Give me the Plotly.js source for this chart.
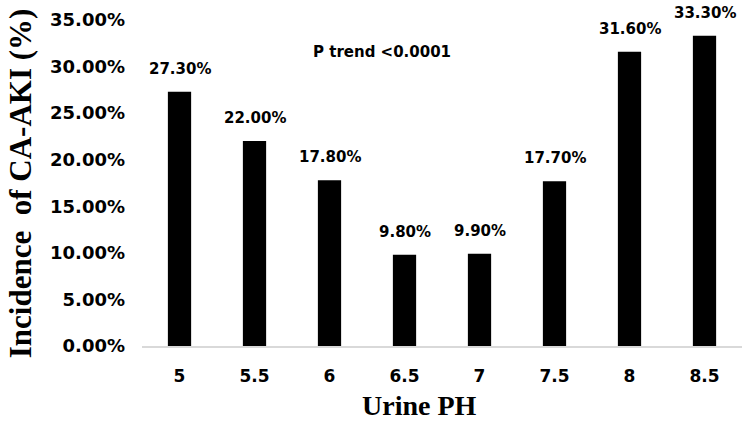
<!DOCTYPE html>
<html><head><meta charset="utf-8">
<script src="https://cdn.plot.ly/plotly-3.0.1.min.js"></script>
<style>html,body{margin:0;padding:0;background:#fff;}</style>
</head><body>
<div id="chart" style="width:749px;height:429px;"></div>
<script>
const categories = ["5", "5.5", "6", "6.5", "7", "7.5", "8", "8.5"];
const incidence = [27.3, 22.0, 17.8, 9.8, 9.9, 17.7, 31.6, 33.3];
const labels = ["27.30%", "22.00%", "17.80%", "9.80%", "9.90%", "17.70%", "31.60%", "33.30%"];
const yTickVals = [0, 5, 10, 15, 20, 25, 30, 35];
const yTickText = ["0.00%", "5.00%", "10.00%", "15.00%", "20.00%", "25.00%", "30.00%", "35.00%"];

const sansFont = "'DejaVu Sans', sans-serif";
const serifFont = "'Liberation Serif', 'DejaVu Serif', serif";

const annotations = categories.map((c, i) => ({
  x: i, y: incidence[i], xref: "x", yref: "y",
  text: "<b>" + labels[i] + "</b>", showarrow: false,
  yanchor: "bottom", yshift: 12,
  font: {family: sansFont, size: 15, color: "#000"}
}));
annotations.push({
  x: 0.4, y: 31.6, xref: "paper", yref: "y",
  text: "<b>P trend <0.0001</b>", showarrow: false,
  font: {family: sansFont, size: 15, color: "#000"}
});
annotations.push({
  x: 0.463, y: 405, xref: "paper", yref: "paper", yanchor: "middle", xanchor: "center",
  text: "<b>Urine PH</b>", showarrow: false,
  font: {family: serifFont, size: 28, color: "#000"}
});
annotations.push({
  x: -0.203, y: 0.5, xref: "paper", yref: "paper", xanchor: "center", yanchor: "middle",
  text: "<b>Incidence  of CA-AKI (%)</b>", showarrow: false, textangle: -90,
  font: {family: serifFont, size: 31, color: "#000"}
});
// convert x-title y from pixel to paper
annotations[annotations.length - 2].y = (429 - 83 - 405) / (429 - 83 - 20);

Plotly.newPlot("chart", [{
  type: "bar", x: categories, y: incidence,
  marker: {color: "#000"}, width: 0.31, hoverinfo: "none"
}], {
  width: 749, height: 429,
  margin: {l: 142, r: 7, t: 20, b: 83},
  paper_bgcolor: "#fff", plot_bgcolor: "#fff",
  showlegend: false,
  xaxis: {
    type: "category", range: [-0.5, 7.5], showgrid: false, showline: true, linecolor: "#d9d9d9", linewidth: 1.5,
    ticks: "", ticklabelstandoff: 14,
    tickfont: {family: sansFont, size: 17, color: "#000", weight: "bold"}
  },
  yaxis: {
    range: [0, 35], showgrid: false, zeroline: false, showline: false, ticks: "",
    tickvals: yTickVals, ticktext: yTickText, ticklabelstandoff: 16,
    tickfont: {family: sansFont, size: 18, color: "#000", weight: "bold"}
  },
  annotations: annotations
}, {displayModeBar: false, staticPlot: true});
</script>
</body></html>
